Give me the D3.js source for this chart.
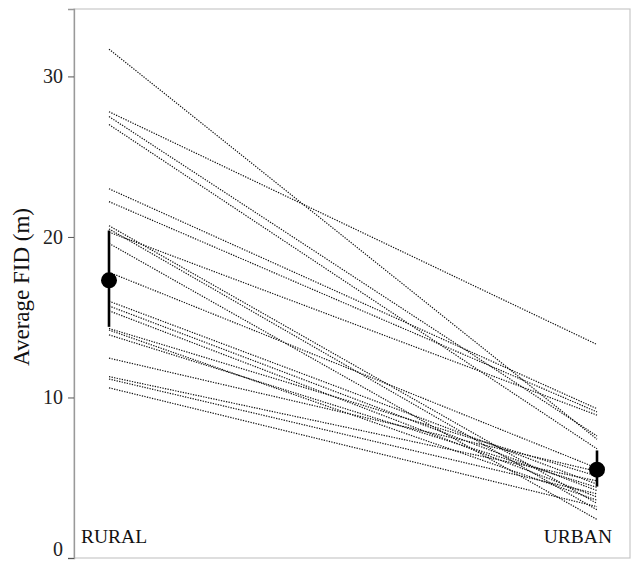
<!DOCTYPE html>
<html><head><meta charset="utf-8">
<script src="https://cdn.jsdelivr.net/npm/d3@7"></script>
<style>body{margin:0;background:#fff}svg{display:block}</style>
</head><body>
<svg id="c" width="632" height="561"></svg>
<script>
const groups = ["RURAL", "URBAN"];
const ruralFID = [31.7, 27.8, 27.5, 27.0, 23.0, 22.2, 20.7, 20.5, 20.3, 19.6, 17.8, 16.0, 15.7, 15.4, 14.3, 14.2, 13.9, 12.45, 11.3, 11.15, 10.6];
const urbanFID = [7.4, 13.3, 7.6, 6.8, 9.3, 9.1, 3.4, 3.0, 8.9, 2.4, 5.6, 4.6, 4.2, 3.8, 5.1, 3.6, 4.4, 5.4, 4.8, 4.0, 3.2];
const meanFID = [17.3, 5.5];
const lowerFID = [14.4, 4.45];
const upperFID = [20.4, 6.7];
const yTicks = [0, 10, 20, 30];

const svg = d3.select("#c");
const mL = 74, mR = 630, mT = 9, mB = 558;
const x = d3.scalePoint().domain(groups).range([109, 597]);
const y = d3.scaleLinear().domain([0, 34.2]).range([mB, mT]);

// frame
svg.append("rect").attr("x", mL).attr("y", mT).attr("width", mR - mL).attr("height", mB - mT)
  .attr("fill", "none").attr("stroke", "#c8c8c8").attr("stroke-width", 1.2);

// y axis
const ax = svg.append("g").attr("transform", `translate(${mL},0)`)
  .call(d3.axisLeft(y).tickValues(yTicks).tickSize(6).tickPadding(5).tickFormat(d3.format("d")));
ax.select(".domain").attr("stroke", "#999").attr("stroke-width", 1.3);
ax.selectAll(".tick line").attr("stroke", "#555");
ax.selectAll(".tick text").attr("font-family", "Liberation Serif, serif").attr("font-size", 20).attr("fill", "#222")
  .attr("dy", d => d === 0 ? "-0.15em" : "0.32em");

svg.append("text").attr("transform", `translate(29,287) rotate(-90)`)
  .attr("text-anchor", "middle").attr("font-family", "Liberation Serif, serif").attr("font-size", 23)
  .attr("fill", "#111").text("Average FID (m)");

// individual lines
svg.append("g").selectAll("line").data(ruralFID).join("line")
  .attr("x1", x("RURAL")).attr("x2", x("URBAN"))
  .attr("y1", d => y(d)).attr("y2", (d, i) => y(urbanFID[i]))
  .attr("stroke", "#111").attr("stroke-width", 1.2).attr("stroke-dasharray", "1.3,1.3");

// error bars & means
groups.forEach((g, i) => {
  svg.append("line").attr("x1", x(g)).attr("x2", x(g)).attr("y1", y(lowerFID[i])).attr("y2", y(upperFID[i]))
    .attr("stroke", "#000").attr("stroke-width", 2.6);
  svg.append("circle").attr("cx", x(g)).attr("cy", y(meanFID[i])).attr("r", 8).attr("fill", "#000");
});

// group labels
svg.append("text").attr("x", 81).attr("y", 543).attr("font-family", "Liberation Serif, serif").attr("font-size", 19.5)
  .attr("fill", "#111").text(groups[0]);
svg.append("text").attr("x", 612).attr("y", 543).attr("text-anchor", "end").attr("font-family", "Liberation Serif, serif").attr("font-size", 19.5)
  .attr("fill", "#111").text(groups[1]);
</script>
</body></html>
